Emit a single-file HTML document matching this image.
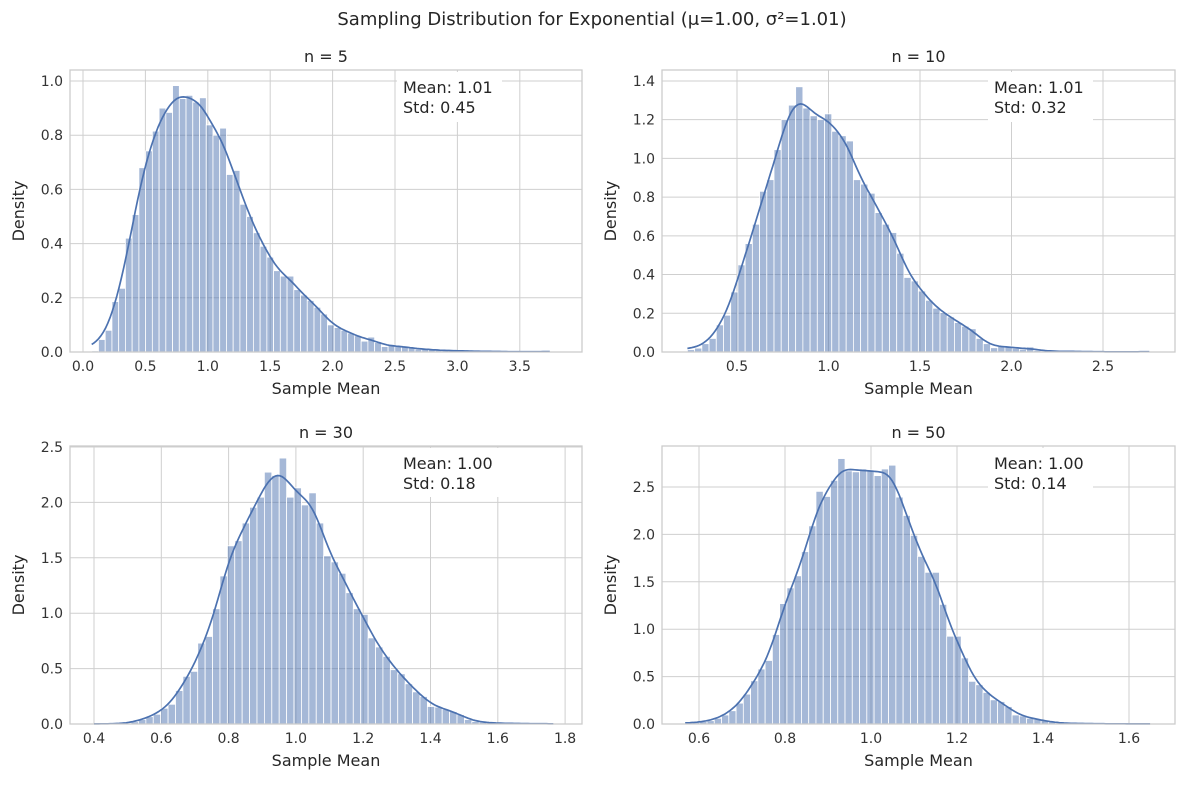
<!DOCTYPE html>
<html><head><meta charset="utf-8"><style>
html,body{margin:0;padding:0;background:#fff;}
svg{display:block;font-family:"DejaVu Sans","Liberation Sans",sans-serif;}
</style></head><body>
<svg id="fig" width="1184" height="786" viewBox="0 0 1184 786">
<text x="592" y="25" text-anchor="middle" font-size="18" fill="#262626">Sampling Distribution for Exponential (μ=1.00, σ²=1.01)</text>
</svg>
<script>
// ---- data ----
const hist5 = [0.004,0.046,0.08,0.186,0.235,0.42,0.507,0.68,0.742,0.815,0.90,0.884,0.983,0.935,0.947,0.922,0.938,0.838,0.80,0.826,0.655,0.67,0.545,0.50,0.44,0.39,0.35,0.30,0.28,0.28,0.23,0.21,0.19,0.165,0.14,0.10,0.09,0.08,0.07,0.06,0.04,0.055,0.035,0.02,0.025,0.02,0.02,0.015,0.01,0.012,0.008,0.006,0.006,0.005,0.004,0.004,0.003,0.003,0.002,0.002,0.002,0.001,0.001,0.001,0.001,0.001,0.001,0.002];
const range5 = [0.07, 3.74];
const hist10 = [0.012,0.02,0.043,0.07,0.14,0.19,0.31,0.45,0.56,0.66,0.83,0.89,1.045,1.20,1.275,1.37,1.26,1.22,1.20,1.23,1.14,1.117,1.09,0.89,0.867,0.82,0.72,0.66,0.617,0.51,0.385,0.367,0.315,0.267,0.226,0.203,0.181,0.152,0.133,0.12,0.07,0.043,0.022,0.028,0.031,0.019,0.014,0.026,0.008,0.006,0.004,0.003,0.004,0.003,0.002,0.002,0.002,0.001,0.001,0.001,0.001,0.001,0.001,0.002];
const range10 = [0.229, 2.753];
const hist30 = [0.001,0.001,0.002,0.003,0.006,0.02,0.04,0.066,0.088,0.142,0.178,0.302,0.43,0.475,0.73,0.79,1.04,1.336,1.608,1.654,1.814,1.956,2.047,2.273,2.243,2.40,2.047,2.131,1.977,2.086,1.814,1.518,1.463,1.36,1.185,1.04,0.989,0.777,0.695,0.61,0.49,0.453,0.363,0.29,0.248,0.158,0.152,0.133,0.112,0.084,0.04,0.022,0.015,0.01,0.008,0.006,0.005,0.004,0.003,0.003,0.002,0.002];
const range30 = [0.40, 1.765];
const hist50 = [0.007,0.014,0.025,0.035,0.06,0.095,0.14,0.22,0.315,0.456,0.58,0.67,0.944,1.27,1.436,1.563,1.818,2.09,2.454,2.40,2.57,2.80,2.67,2.66,2.69,2.68,2.62,2.69,2.73,2.394,2.2,1.99,1.768,1.6,1.6,1.262,0.926,0.926,0.697,0.45,0.414,0.333,0.255,0.237,0.184,0.095,0.085,0.06,0.05,0.035,0.018,0.01,0.008,0.006,0.005,0.004,0.003,0.003,0.002,0.002,0.002,0.001,0.001,0.001];
const range50 = [0.568, 1.649];
const titles = ["n = 5","n = 10","n = 30","n = 50"];
const means = ["1.01","1.01","1.00","1.00"];
const stds = ["0.45","0.32","0.18","0.14"];
const xticks5 = ["0.0","0.5","1.0","1.5","2.0","2.5","3.0","3.5"];
const xticks10 = ["0.5","1.0","1.5","2.0","2.5"];
const xticks30 = ["0.4","0.6","0.8","1.0","1.2","1.4","1.6","1.8"];
const xticks50 = ["0.6","0.8","1.0","1.2","1.4","1.6"];
const yticks5 = ["0.0","0.2","0.4","0.6","0.8","1.0"];
const yticks10 = ["0.0","0.2","0.4","0.6","0.8","1.0","1.2","1.4"];
const yticks30 = ["0.0","0.5","1.0","1.5","2.0","2.5"];
const yticks50 = ["0.0","0.5","1.0","1.5","2.0","2.5"];

// ---- layout (pixel geometry) ----
const NS = "http://www.w3.org/2000/svg";
const svg = document.getElementById('fig');
function mk(tag, attrs, parent){
  const e = document.createElementNS(NS, tag);
  for (const k in attrs) e.setAttribute(k, attrs[k]);
  (parent||svg).appendChild(e); return e;
}
const panels = [
  {hist:hist5, range:range5, xt:xticks5, yt:yticks5, L:70,R:582,T:70,B:352, x0v:0, x0p:83, xpu:124.8, ypu:271, box:[397,72,105,50]},
  {hist:hist10, range:range10, xt:xticks10, yt:yticks10, L:662,R:1175,T:70,B:352, x0v:0.5, x0p:737, xpu:183, ypu:193.6, box:[988,72,105,50]},
  {hist:hist30, range:range30, xt:xticks30, yt:yticks30, L:70,R:582,T:446,B:724, x0v:0.4, x0p:94, xpu:336.5, ypu:110.8, box:[397,448,105,49]},
  {hist:hist50, range:range50, xt:xticks50, yt:yticks50, L:662,R:1175,T:446,B:724, x0v:0.6, x0p:699, xpu:430, ypu:94.8, box:[988,448,105,41]}
];
panels.forEach((p, i) => {
  const g = mk('g', {});
  
  
  const xs = v => p.x0p + (v - p.x0v) * p.xpu;
  const ys = v => p.B - v * p.ypu;
  p.xt.forEach(t => {
    const x = xs(parseFloat(t));
    const l = mk('line', {x1:x, x2:x, y1:p.T, y2:p.B, stroke:'#cfcfcf', 'stroke-width':1}, g);
    
    
    const tx = mk('text', {x:x, y:p.B+19, 'text-anchor':'middle', 'font-size':14, fill:'#333'}, g);
    tx.textContent = t;
    
    
  });
  p.yt.forEach(t => {
    const y = ys(parseFloat(t));
    const l = mk('line', {x1:p.L, x2:p.R, y1:y, y2:y, stroke:'#cfcfcf', 'stroke-width':1}, g);
    
    
    const tx = mk('text', {x:p.L-7, y:y+5, 'text-anchor':'end', 'font-size':14, fill:'#333'}, g);
    tx.textContent = t;
    
    
  });
  const n = p.hist.length, w = (p.range[1]-p.range[0])/n;
  p.hist.forEach((v, k) => {
    const x1 = xs(p.range[0] + k*w), x2 = xs(p.range[0] + (k+1)*w);
    const r = mk('rect', {x:x1, y:ys(v), width:Math.max(0,x2-x1), height:Math.max(0, p.B-ys(v)), fill:'rgba(76,114,176,0.5)', stroke:'#fff', 'stroke-width':0.8}, g);
    
    
  });
  const bw = 1.3*w, pts = [];
  for (let s = 0; s <= 200; s++) {
    const xv = p.range[0] + (p.range[1]-p.range[0])*s/200;
    let num = 0, den = 0;
    p.hist.forEach((v, k) => {
      const c = p.range[0] + (k+0.5)*w;
      const wt = Math.exp(-0.5*Math.pow((xv-c)/bw, 2));
      num += v*wt; den += wt;
    });
    pts.push(xs(xv).toFixed(1) + ',' + ys(num/den).toFixed(1));
  }
  const kde = mk('polyline', {points:pts.join(' '), fill:'none', stroke:'#4c72b0', 'stroke-width':1.7}, g);
  
  
  const fr = mk('rect', {x:p.L, y:p.T, width:p.R-p.L, height:p.B-p.T, fill:'none', stroke:'#cccccc', 'stroke-width':1.3}, g);
  
  
  const bx = mk('rect', {x:p.box[0], y:p.box[1], width:p.box[2], height:p.box[3], fill:'#fff'}, g);
  
  
  const t1 = mk('text', {x:p.box[0]+6, y:p.box[1]+21, 'font-size':16, fill:'#262626'}, g);
  t1.textContent = 'Mean: ' + means[i];
  
  
  const t2 = mk('text', {x:p.box[0]+6, y:p.box[1]+41, 'font-size':16, fill:'#262626'}, g);
  t2.textContent = 'Std: ' + stds[i];
  
  
  const cx = (p.L+p.R)/2;
  const tt = mk('text', {x:cx, y:p.T-8, 'text-anchor':'middle', 'font-size':16, fill:'#262626'}, g);
  tt.textContent = titles[i];
  
  
  const xl = mk('text', {x:cx, y:p.B+42, 'text-anchor':'middle', 'font-size':16, fill:'#262626'}, g);
  xl.textContent = 'Sample Mean';
  
  
  const yx = p.L - 46, yy = (p.T+p.B)/2;
  const yl = mk('text', {x:yx, y:yy, 'text-anchor':'middle', 'font-size':16, fill:'#262626', transform:'rotate(-90 '+yx+' '+yy+')'}, g);
  yl.textContent = 'Density';
  
  
});
</script>
</body></html>
